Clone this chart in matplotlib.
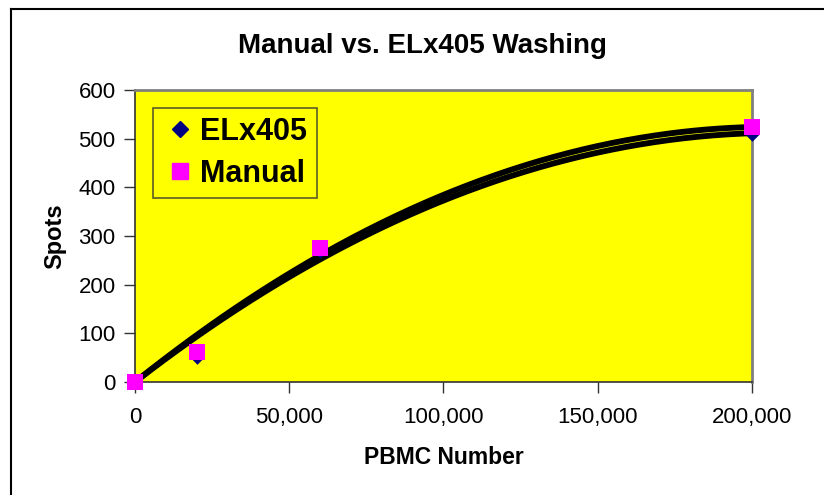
import numpy as np
import matplotlib
matplotlib.use("Agg")
import matplotlib.pyplot as plt
from matplotlib.ticker import FuncFormatter
from matplotlib.lines import Line2D

plt.rcParams['font.family'] = ['Liberation Sans', 'DejaVu Sans']

pbmc = [0, 20000, 60000, 200000]
elx405 = [0, 51, 270, 510]
manual = [0, 62, 275, 523]

fig = plt.figure(figsize=(8.24, 4.95), dpi=100)
ax = fig.add_axes([135/824, 1-382/495, (752-135)/824, (382-90)/495])
ax.set_facecolor('#FFFF00')

# 2nd-order polynomial trendlines with intercept fixed at 0 (as in Excel)
x_arr = np.asarray(pbmc, dtype=float)
xs = np.linspace(0, 200000, 300)
for ys in (elx405, manual):
    A = np.column_stack([x_arr, x_arr**2])
    coef, *_ = np.linalg.lstsq(A, np.asarray(ys, dtype=float), rcond=None)
    ax.plot(xs, coef[0]*xs + coef[1]*xs**2, color='black', lw=4.2, zorder=2,
            solid_capstyle='butt')

ax.scatter(pbmc, elx405, marker='D', s=55, color='#000080', zorder=3, clip_on=False, linewidths=0)
ax.scatter(pbmc, manual, marker='s', s=130, color='#FF00FF', zorder=4, clip_on=False, linewidths=0)

ax.set_xlim(0, 200000)
ax.set_ylim(0, 600)
ax.set_xticks([0, 50000, 100000, 150000, 200000])
ax.set_yticks([0, 100, 200, 300, 400, 500, 600])
ax.xaxis.set_major_formatter(FuncFormatter(lambda v, p: f"{int(v):,}"))
ax.tick_params(axis='both', direction='out', length=8, width=1, labelsize=16, color='#333333')
ax.tick_params(axis='x', pad=10)
ax.tick_params(axis='y', pad=6)
for s in ax.spines.values():
    s.set_color('#808080')
    s.set_linewidth(2)
ax.spines['left'].set_color('#333333')
ax.spines['bottom'].set_color('#333333')
ax.spines['left'].set_linewidth(1.2)
ax.spines['bottom'].set_linewidth(1.2)

ax.set_xlabel('PBMC Number', fontsize=16.5, fontweight='bold', labelpad=13)
ax.set_ylabel('Spots', fontsize=17, fontweight='bold', labelpad=9)
fig.text(422/824, 1-46/495, 'Manual vs. ELx405 Washing', ha='center', va='center',
         fontsize=20, fontweight='bold')

handles = [Line2D([], [], marker='D', color='#000080', ls='none', markersize=8),
           Line2D([], [], marker='s', color='#FF00FF', ls='none', markersize=12)]
leg = ax.legend(handles, ['ELx405', 'Manual'], loc='upper left',
                bbox_to_anchor=((153-135)/617, (382-108)/292),
                prop={'weight': 'bold', 'size': 22}, frameon=True, fancybox=False,
                handlelength=1.15, handletextpad=0.1, borderpad=0.3, labelspacing=0.38,
                borderaxespad=0)
leg.get_frame().set_facecolor('#FFFF00')
leg.get_frame().set_edgecolor('#333333')
leg.get_frame().set_linewidth(1.2)

# outer chart border (left and top only visible)
fig.add_artist(Line2D([11/824, 11/824], [0, 1-9/495], color='black', lw=1.5, transform=fig.transFigure))
fig.add_artist(Line2D([11/824, 1], [1-9/495, 1-9/495], color='black', lw=1.5, transform=fig.transFigure))

fig.savefig('out.png', dpi=100)
